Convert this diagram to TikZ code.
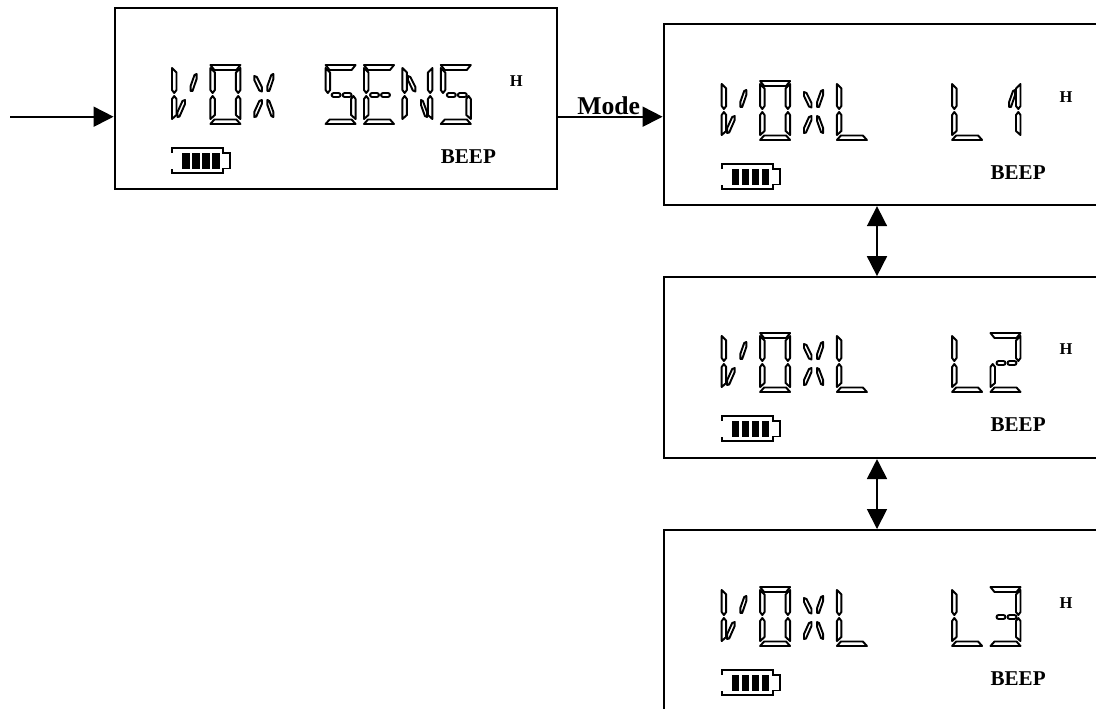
\documentclass[tikz,border=0pt]{standalone}
\usepackage{fontspec}
\setmainfont{Liberation Serif}
\usetikzlibrary{positioning}
\usetikzlibrary{arrows.meta}

\tikzset{
    seg/.style={draw, line width=1.1pt, fill=white, line join=round},
    panel/.style={draw, line width=1.1pt, minimum width=8.94cm, minimum height=3.62cm, inner sep=0pt},
    flow/.style={line width=1pt, -{Triangle[width=0.4cm,length=0.4cm]}},
    both/.style={line width=1pt, {Triangle[width=0.4cm,length=0.4cm]}-{Triangle[width=0.4cm,length=0.4cm]}},
    hflag/.style={font=\fontsize{9.4}{10}\selectfont\bfseries, inner sep=0pt},
    beep/.style={font=\fontsize{12}{14}\selectfont\bfseries, inner sep=0pt},
    modetext/.style={font=\fontsize{14.6}{16}\selectfont\bfseries, inner sep=0pt, anchor=base west}
}

% the segments of one display cell
\newcommand{\segT}{\draw[seg] (0,0) -- (30,0) -- (26,5) -- (4,5) -- cycle;}
\newcommand{\segB}{\draw[seg] (0,59) -- (30,59) -- (26,54.5) -- (4,54.5) -- cycle;}
\newcommand{\segLU}{\draw[seg] (0,3) -- (4.5,7.5) -- (4.5,25) -- (2.2,28) -- (0,25) -- cycle;}
\newcommand{\segLL}{\draw[seg] (0,34) -- (2.2,31) -- (4.5,34) -- (4.5,50) -- (0,54) -- cycle;}
\newcommand{\segRU}{\draw[seg] (30,3) -- (25.5,7.5) -- (25.5,25) -- (27.8,28) -- (30,25) -- cycle;}
\newcommand{\segRL}{\draw[seg] (30,34) -- (27.8,31) -- (25.5,34) -- (25.5,50) -- (30,54) -- cycle;}
\newcommand{\segGL}{\draw[seg, rounded corners=1.2pt] (6,28) rectangle (15,32);}
\newcommand{\segGR}{\draw[seg, rounded corners=1.2pt] (17,28) rectangle (26,32);}
\newcommand{\segDUL}{\draw[seg] (5.5,11) -- (8,12) -- (13,22) -- (13,26.5) -- (10.5,25.5) -- (5.5,15) -- cycle;}
\newcommand{\segDUR}{\draw[seg] (24.6,9) -- (24.6,14) -- (20.5,26) -- (18.6,26) -- (18.6,21) -- (22.5,10) -- cycle;}
\newcommand{\segDLL}{\draw[seg] (13,35) -- (13,39) -- (7.5,51.5) -- (5.5,52) -- (5.5,47) -- (10.5,36) -- cycle;}
\newcommand{\segDLR}{\draw[seg] (18.6,35) -- (20.5,36) -- (24.6,47) -- (24.6,52) -- (22.5,51) -- (18.6,40) -- cycle;}

% which segments each character lights
\newcommand{\glyphV}{LU,LL,DLL,DUR}
\newcommand{\glyphO}{T,B,LU,LL,RU,RL}
\newcommand{\glyphX}{DUL,DUR,DLL,DLR}
\newcommand{\glyphS}{T,B,LU,RL,GL,GR}
\newcommand{\glyphE}{T,B,LU,LL,GL,GR}
\newcommand{\glyphN}{LU,LL,RU,RL,DUL,DLR}
\newcommand{\glyphL}{B,LU,LL}
\newcommand{\glyphone}{RU,RL,DUR}
\newcommand{\glyphtwo}{T,B,RU,LL,GL,GR}
\newcommand{\glyphthree}{T,B,RU,RL,GL,GR}

\newcommand{\lcdword}[3]{
    \foreach \c/\i in {#3} {
        \begin{scope}[shift={(#1+38.4*\i,#2)}]
            \expandafter\let\expandafter\seglist\csname glyph\c\endcsname
            \foreach \s in \seglist {\csname seg\s\endcsname}
        \end{scope}
    }
}

% battery and the two small labels under and beside the word
\newcommand{\lcdstatus}[3]{
    \begin{scope}[shift={(#2,#3)}]
        \draw[line width=1.1pt] (0,87.7) -- (0,83.3) -- (51.3,83.3) -- (51.3,87.7) -- (58,87.7) -- (58,103.5) -- (51.3,103.5) -- (51.3,108.3) -- (0,108.3) -- (0,103.8);
        \foreach \b in {0,1,2,3} {
            \fill (10+10*\b,87.7) rectangle (17.5+10*\b,104);
        }
        \node[hflag] (#1h) at (344.4,16.3) {H};
        \node[beep] (#1beep) at (296.4,92) {BEEP};
    \end{scope}
}

\begin{document}
\begin{tikzpicture}[x=0.02cm, y=-0.02cm]
    \clip (0,0) rectangle (1096,708);

    \node[panel, minimum width=8.86cm] (sens) at (336,98.7) {};
    \node[panel] (levelone) at (887,114.7) {};
    \node[panel, below = 1.4cm of levelone] (leveltwo) {};
    \node[panel, below = 1.4cm of leveltwo] (levelthree) {};

    \lcdword{172}{65}{V/0,O/1,X/2,S/4,E/5,N/6,S/7}
    \lcdword{721.7}{81}{V/0,O/1,X/2,L/3,L/6,one/7}
    \lcdword{721.7}{333}{V/0,O/1,X/2,L/3,L/6,two/7}
    \lcdword{721.7}{587}{V/0,O/1,X/2,L/3,L/6,three/7}

    \lcdstatus{sens}{172}{65}
    \lcdstatus{levelone}{721.7}{81}
    \lcdstatus{leveltwo}{721.7}{333}
    \lcdstatus{levelthree}{721.7}{587}

    \coordinate (start) at (10,116.7);
    \coordinate (axis) at (877,0);
    \node[modetext] (mode) at (577,114) {Mode};

    \draw[flow] (start) -- (start -| sens.west);
    \draw[flow] (start -| sens.east) -- (start -| levelone.west);
    \draw[both] (axis |- levelone.south) -- (axis |- leveltwo.north);
    \draw[both] (axis |- leveltwo.south) -- (axis |- levelthree.north);
\end{tikzpicture}
\end{document}
